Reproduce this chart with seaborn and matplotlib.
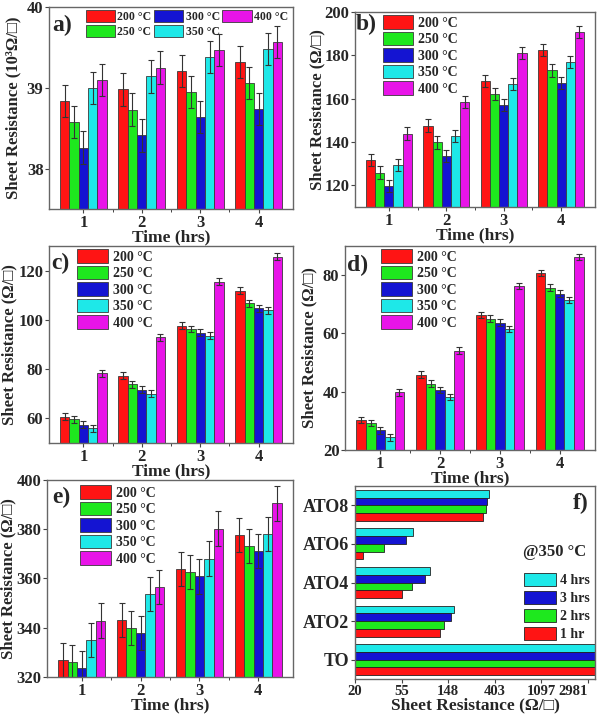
import numpy as np
import pandas as pd
import matplotlib
matplotlib.use('Agg')
import matplotlib.pyplot as plt
from matplotlib.container import BarContainer
from matplotlib.ticker import NullLocator
import seaborn as sns

# ---- data ----
times = ['1', '2', '3', '4']
temps = ['200 °C', '250 °C', '300 °C', '350 °C', '400 °C']
colors = ['#ff1414', '#1ee81e', '#1414d2', '#1ee8e8', '#e814e8']

# rows = temperature, cols = time (hrs)
a_vals = [[38.84, 38.98, 39.21, 39.32],
          [38.58, 38.73, 38.95, 39.06],
          [38.26, 38.41, 38.64, 38.74],
          [39.00, 39.14, 39.38, 39.48],
          [39.10, 39.25, 39.47, 39.57]]
b_vals = [[131.6, 147.6, 168.3, 182.5],
          [125.9, 139.8, 162.3, 173.0],
          [119.5, 133.6, 156.9, 167.1],
          [129.3, 142.7, 166.6, 176.8],
          [143.9, 158.6, 181.0, 190.9]]
c_vals = [[60.7, 77.3, 97.7, 111.8],
          [59.6, 73.9, 96.3, 106.8],
          [57.4, 71.6, 94.8, 104.8],
          [55.9, 70.0, 93.5, 103.9],
          [78.4, 93.0, 115.5, 125.6]]
d_vals = [[30.3, 45.9, 66.4, 80.7],
          [29.2, 42.8, 65.1, 75.7],
          [26.7, 40.5, 63.7, 73.7],
          [24.3, 38.2, 61.6, 71.4],
          [39.8, 54.1, 76.3, 86.3]]
e_vals = [[327.0, 343.2, 363.9, 377.7],
          [326.1, 339.9, 362.6, 373.1],
          [323.6, 337.8, 360.9, 371.2],
          [335.1, 353.8, 368.1, 378.0],
          [342.9, 356.5, 380.3, 390.5]]
errs = {'a': 0.2, 'b': 2.8, 'c': 1.4, 'd': 1.1, 'e': 7.0}

samples = ['ATO8', 'ATO6', 'ATO4', 'ATO2', 'TO']
durations = ['4 hrs', '3 hrs', '2 hrs', '1 hr']
f_colors = ['#1ee8e8', '#1414d2', '#1ee81e', '#ff1414']
# rows = duration, cols = sample
f_vals = [[357, 70, 99.5, 169, 39470],
          [344, 60, 90, 158, 39380],
          [333, 37.5, 68, 137, 39140],
          [316, 24, 55, 124, 39000]]
f_ticks = ['20', '55', '148', '403', '1097', '2981']

sns.set_style('ticks')
plt.rcParams['font.family'] = ['Liberation Serif', 'DejaVu Serif']
plt.rcParams['font.weight'] = 'bold'
plt.rcParams['axes.labelweight'] = 'bold'

fig = plt.figure(figsize=(6, 7.19), dpi=100)


def box(l, t, r, b):
    return [l / 600, 1 - b / 719, (r - l) / 600, (b - t) / 719]


def style_axes(ax):
    for s in ax.spines.values():
        s.set_color('#666666')
        s.set_linewidth(1.0)
    ax.tick_params(direction='out', length=3, width=0.8, color='#444444',
                   labelsize=12, pad=1)


def panel(rect, vals, err, ylim, yticks, ylabel, tag, leg_xy, tag_xy, lab_x,
          ncol=1, legsize=10):
    ax = fig.add_axes(box(*rect))
    rows = []
    for i, temp in enumerate(temps):
        for j, t in enumerate(times):
            rows.append((t, temp, vals[i][j]))
    df = pd.DataFrame(rows, columns=['Time', 'Temp', 'R'])
    sns.barplot(data=df, x='Time', y='R', hue='Temp', order=times, hue_order=temps,
                palette=colors, saturation=1, errorbar=None, edgecolor='#3a3a3a',
                linewidth=0.6, ax=ax)
    bars = [c for c in ax.containers if isinstance(c, BarContainer)]
    for cont in bars:
        xs = [p.get_x() + p.get_width() / 2 for p in cont]
        ys = [p.get_height() for p in cont]
        ax.errorbar(xs, ys, yerr=err, fmt='none', ecolor='#333333', elinewidth=0.8,
                    capsize=2, capthick=0.8)
    ax.set_ylim(*ylim)
    ax.set_yticks(yticks)
    ax.set_xticks([0.5, 1.5, 2.5], minor=True)
    ax.set_xlabel('Time (hrs)', fontsize=12.5, labelpad=-1)
    ax.set_ylabel(ylabel, fontsize=12)
    ax.yaxis.set_label_coords(lab_x, 0.5)
    style_axes(ax)
    ax.tick_params(axis='x', which='minor', length=2)
    if ncol > 1:
        ax.legend(loc='upper left', bbox_to_anchor=leg_xy, ncol=ncol, frameon=False,
                  fontsize=legsize, handlelength=2.5, handleheight=1.2, labelspacing=0.15,
                  handletextpad=0.2, borderaxespad=0, borderpad=0.1, columnspacing=0.2)
    else:
        ax.legend(loc='upper left', bbox_to_anchor=leg_xy, frameon=False,
                  fontsize=legsize, handlelength=2.2, handleheight=1.1, labelspacing=0.15,
                  handletextpad=0.35, borderaxespad=0, borderpad=0.1)
    ax.text(tag_xy[0], tag_xy[1], tag, transform=ax.transAxes, fontsize=17,
            fontweight='bold', va='top', ha='left')
    return ax


panel((49, 7, 293, 209), a_vals, errs['a'], (37.5, 40), [38, 39, 40],
      'Sheet Resistance (10³Ω/□)', 'a)', (0.145, 0.99), (0.015, 0.96), -0.115,
      ncol=3, legsize=8.5)
panel((355, 12, 595, 207), b_vals, errs['b'], (110, 200), [120, 140, 160, 180, 200],
      'Sheet Resistance (Ω/□)', 'b)', (0.11, 0.99), (0.005, 0.99), -0.125)
panel((49, 246, 293, 443), c_vals, errs['c'], (50, 130), [60, 80, 100, 120],
      'Sheet Resistance (Ω/□)', 'c)', (0.11, 0.99), (0.01, 0.965), -0.13)
panel((345, 246, 595, 450), d_vals, errs['d'], (20, 90), [20, 40, 60, 80],
      'Sheet Resistance (Ω/□)', 'd)', (0.14, 0.99), (0.01, 0.955), -0.11)
panel((47, 480, 293, 677), e_vals, errs['e'], (320, 400), [320, 340, 360, 380, 400],
      'Sheet Resistance (Ω/□)', 'e)', (0.13, 0.98), (0.02, 0.965), -0.125)

# ---- panel f ----
axf = fig.add_axes(box(355, 486, 595, 679))
rows = []
for i, d in enumerate(durations):
    for j, s in enumerate(samples):
        rows.append((s, d, f_vals[i][j]))
dff = pd.DataFrame(rows, columns=['Sample', 'Dur', 'R'])
sns.barplot(data=dff, y='Sample', x='R', hue='Dur', order=samples, hue_order=durations,
            palette=f_colors, saturation=1, errorbar=None, orient='h',
            edgecolor='#222222', linewidth=0.6, ax=axf)
axf.set_xscale('log')
tick_pos = [float(t) for t in f_ticks]
axf.set_xticks(tick_pos)
axf.set_xticklabels(f_ticks)
axf.get_xticklabels()[-1].set_horizontalalignment('right')
axf.xaxis.set_minor_locator(NullLocator())
axf.set_xlim(20, 3500)
axf.set_ylabel('')
axf.set_xlabel('Sheet Resistance (Ω/□)', fontsize=12.5, labelpad=0)
style_axes(axf)
axf.tick_params(axis='x', labelsize=10.5)
axf.tick_params(axis='y', labelsize=13)
axf.legend(loc='lower left', bbox_to_anchor=(0.70, 0.19), frameon=False, fontsize=10,
           handlelength=2.3, handleheight=1.1, labelspacing=0.25, handletextpad=0.3,
           borderaxespad=0, borderpad=0.1)
axf.text(0.83, 0.66, '@350 °C', transform=axf.transAxes, fontsize=12,
         fontweight='bold', ha='center', va='center')
axf.text(0.975, 0.965, 'f)', transform=axf.transAxes, fontsize=17,
         fontweight='bold', ha='right', va='top')

fig.savefig('out.png', dpi=100)
